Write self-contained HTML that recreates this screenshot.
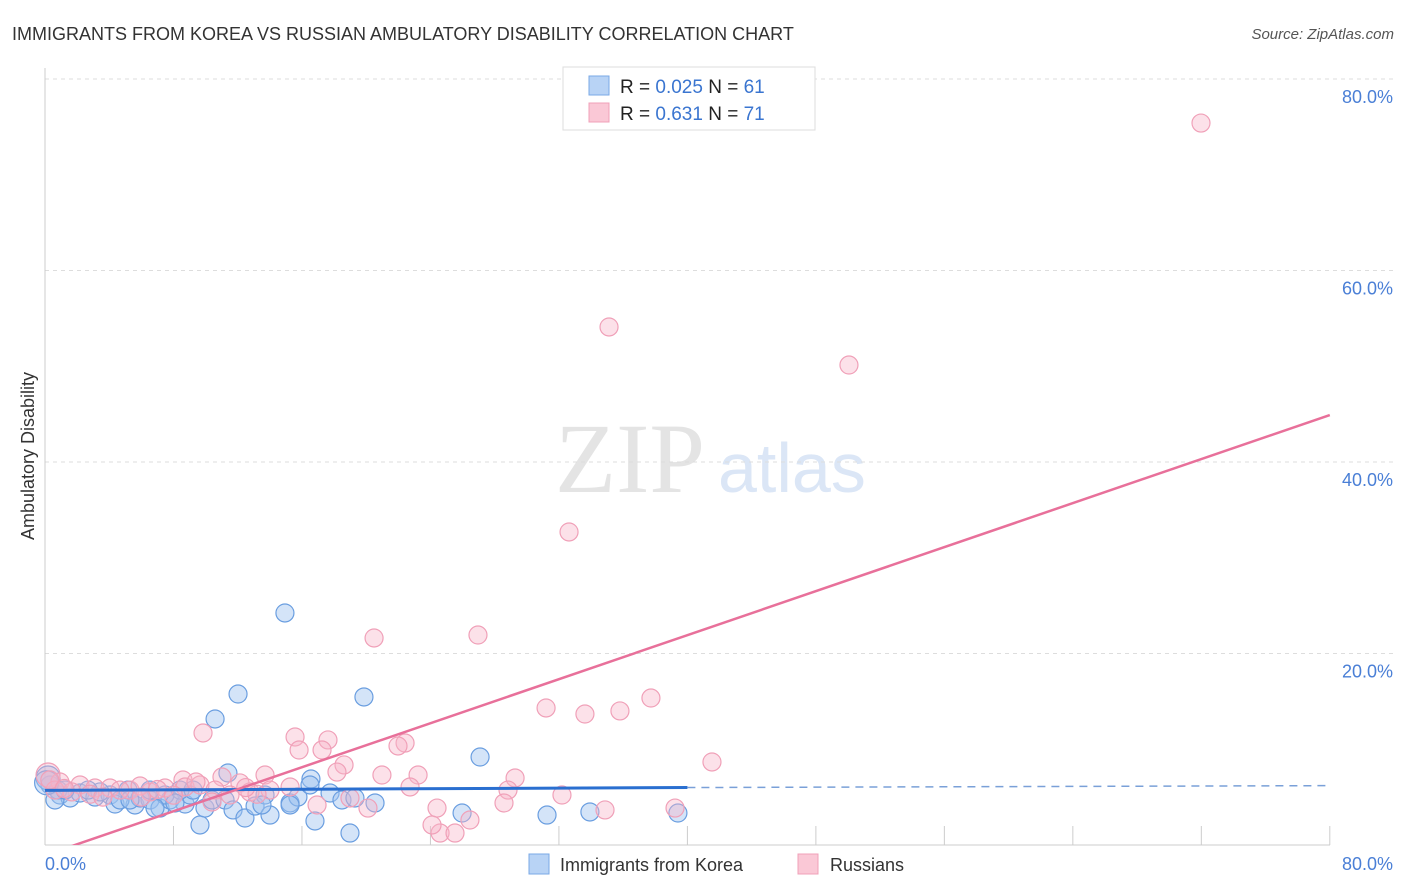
<!DOCTYPE html>
<html><head><meta charset="utf-8"><style>
body{margin:0;background:#fff;font-family:"Liberation Sans",sans-serif}
</style></head><body>
<svg id="c" width="1406" height="892" xmlns="http://www.w3.org/2000/svg" style="display:block">
<text x="12" y="40" font-size="18" fill="#333">IMMIGRANTS FROM KOREA VS RUSSIAN AMBULATORY DISABILITY CORRELATION CHART</text>
<text x="1394" y="39" font-size="15" fill="#555" text-anchor="end" font-style="italic">Source: ZipAtlas.com</text>
<text x="555" y="492" font-size="100" fill="#e4e4e4" font-family="Liberation Serif,serif">ZIP</text>
<text x="718" y="492" font-size="70" fill="#dbe6f6">atlas</text>
<g id="grid"></g>
<g id="pts"></g>
<g id="lines"></g>
<text transform="translate(34,456) rotate(-90)" font-size="18" fill="#333" text-anchor="middle">Ambulatory Disability</text>
<text x="45" y="870" font-size="18" fill="#4a7fd6">0.0%</text>
<text x="1393" y="870" font-size="18" fill="#4a7fd6" text-anchor="end">80.0%</text>
<g>
<rect x="563" y="67" width="252" height="63" fill="#fff" stroke="#ddd"/>
<rect x="589" y="76" width="20" height="19" fill="#b8d3f5" stroke="#7aa8e6"/>
<rect x="589" y="103" width="20" height="19" fill="#fac8d6" stroke="#f0a0b8"/>
<text x="620" y="93" font-size="19" fill="#222">R = <tspan fill="#3a75d0">0.025</tspan>   N = <tspan fill="#3a75d0">61</tspan></text>
<text x="620" y="120" font-size="19" fill="#222">R =  <tspan fill="#3a75d0">0.631</tspan>   N = <tspan fill="#3a75d0">71</tspan></text>
</g>
<g>
<rect x="529" y="854" width="20" height="20" fill="#b8d3f5" stroke="#7aa8e6"/>
<text x="560" y="871" font-size="18" fill="#333">Immigrants from Korea</text>
<rect x="798" y="854" width="20" height="20" fill="#fac8d6" stroke="#f0a0b8"/>
<text x="830" y="871" font-size="18" fill="#333">Russians</text>
</g>
</svg>
<script>
const yTicks=[20,40,60,80];
const yTickLabels=["20.0%","40.0%","60.0%","80.0%"];
const xTicks=[0,8,16,24,32,40,48,56,64,72,80];
const koreaX=[14.94,12.02,19.86,10.59,27.09,11.39,16.56,0.31,0.93,1.56,2.18,3.11,4.05,4.36,5.17,5.60,6.54,7.16,7.78,8.72,9.03,9.65,9.96,10.40,11.21,11.71,12.45,13.08,13.70,14.01,15.26,15.75,16.81,17.75,18.49,18.99,19.30,20.55,25.97,31.26,33.93,39.41,5.92,3.42,4.67,7.47,8.41,0.81,2.68,6.54,8.09,6.85,9.22,13.51,16.50,0.62,0.19,1.25,5.29,15.26,0.1];
const koreaY=[24.23,15.77,15.46,13.16,9.19,7.52,6.89,6.27,5.22,4.91,5.43,5.01,5.22,4.28,5.74,4.18,4.70,3.86,4.70,4.28,5.22,2.09,3.86,4.70,4.70,3.66,2.82,4.07,5.22,3.13,4.39,5.01,2.51,5.43,4.70,1.25,4.91,4.39,3.34,3.13,3.45,3.34,4.91,5.54,4.70,5.22,5.74,5.74,5.74,5.74,4.39,3.86,5.74,4.18,6.27,4.70,7.0,5.74,4.70,4.18,6.5];
const rusX=[71.98,35.12,50.06,32.63,20.49,26.96,37.73,31.20,35.80,33.62,9.84,15.57,17.62,22.42,21.98,15.82,17.25,41.53,18.62,18.18,23.23,29.27,20.98,13.70,11.02,12.14,8.59,15.26,22.73,28.83,32.19,39.23,34.87,24.41,28.58,26.46,24.60,25.53,24.10,20.11,16.94,0.19,0.93,2.18,3.11,4.05,5.29,6.54,7.47,8.72,9.65,10.59,11.52,12.76,14.01,0.62,4.67,5.92,9.40,10.40,1.68,18.99,0.3,1.2,2.8,3.6,6.0,7.0,8.0,13.2,12.5];
const rusY=[75.40,54.10,50.13,32.69,21.62,21.93,15.35,14.31,14.00,13.68,11.70,11.28,10.97,10.65,10.34,9.92,9.92,8.67,8.36,7.62,7.31,7.00,7.31,7.31,7.10,6.48,6.79,6.06,6.06,5.74,5.22,3.86,3.66,3.86,4.39,2.61,1.25,1.25,2.09,3.86,4.18,7.31,6.58,6.27,5.95,5.95,5.74,5.54,5.95,6.06,6.27,5.74,5.22,5.54,5.74,5.74,5.74,6.16,6.58,4.49,5.54,4.91,6.8,5.9,5.3,5.0,5.0,5.8,5.2,5.3,6.0];
const koreaTrend=[[0,5.7],[40,6.0],[80,6.2]];
const rusTrend=[[0,-1.07],[80,44.9]];
const NS="http://www.w3.org/2000/svg";
const X=v=>45+v*16.06, Y=v=>845-v*9.575;
function mk(t,a,p){const e=document.createElementNS(NS,t);for(const k in a)e.setAttribute(k,a[k]);p.appendChild(e);return e;}
const g=document.getElementById('grid');
yTicks.forEach((t,i)=>{
 const l=mk('line',{x1:45,x2:1395,y1:Y(t),y2:Y(t),stroke:'#ddd','stroke-dasharray':'4,4'},g);
 
 
 const tx=mk('text',{x:1393,y:Y(t)+24,'font-size':18,fill:'#4a7fd6','text-anchor':'end'},g);
 tx.textContent=yTickLabels[i];
 
 
});
const ax=mk('line',{x1:45,x2:45,y1:68,y2:845,stroke:'#ccc'},g);


const bx=mk('line',{x1:45,x2:1330,y1:845,y2:845,stroke:'#ccc'},g);


xTicks.forEach(t=>{const l=mk('line',{x1:X(t),x2:X(t),y1:826,y2:845,stroke:'#ccc'},g);
 
 });
const p=document.getElementById('pts');
koreaX.forEach((v,i)=>{const c=mk('circle',{cx:X(v),cy:Y(koreaY[i]),r:i==56||i==60?12:9,fill:'rgba(160,195,240,0.45)',stroke:'#6a9ee0','stroke-width':1.2},p);
 
 });
rusX.forEach((v,i)=>{const c=mk('circle',{cx:X(v),cy:Y(rusY[i]),r:i==41?12:9,fill:'rgba(248,180,200,0.4)',stroke:'#f0a0b8','stroke-width':1.2},p);
 
 });
const L=document.getElementById('lines');
const k1=mk('line',{x1:X(koreaTrend[0][0]),y1:Y(koreaTrend[0][1]),x2:X(koreaTrend[1][0]),y2:Y(koreaTrend[1][1]),stroke:'#2a6fd0','stroke-width':3},L);


const k2=mk('line',{x1:X(koreaTrend[1][0]),y1:Y(koreaTrend[1][1]),x2:X(koreaTrend[2][0]),y2:Y(koreaTrend[2][1]),stroke:'#7aa0d8','stroke-width':1.5,'stroke-dasharray':'8,6'},L);


const r1=mk('line',{x1:X(rusTrend[0][0]),y1:Y(rusTrend[0][1]),x2:X(rusTrend[1][0]),y2:Y(rusTrend[1][1]),stroke:'#e8709a','stroke-width':2.5},L);


const cp=mk('clipPath',{id:'cl'},document.getElementById('c'));mk('rect',{x:45,y:60,width:1300,height:785},cp);
L.setAttribute('clip-path','url(#cl)');
</script>
</body></html>
